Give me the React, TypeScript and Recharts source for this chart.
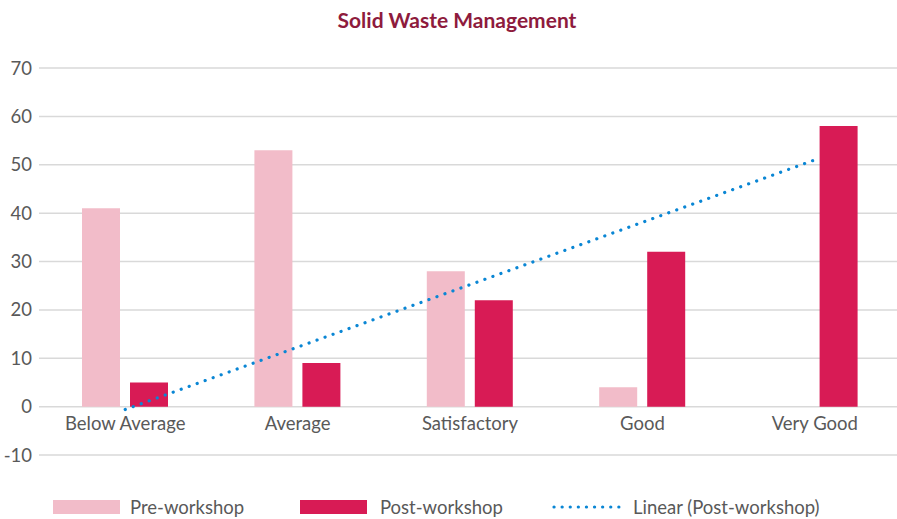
import React from 'react';
import {
  ComposedChart,
  Bar,
  Line,
  XAxis,
  YAxis,
  CartesianGrid,
} from 'recharts';

const categories = ['Below Average', 'Average', 'Satisfactory', 'Good', 'Very Good'];
const preWorkshop = [41, 53, 28, 4, 0];
const postWorkshop = [5, 9, 22, 32, 58];
// linear trend of post-workshop
const postTrend = [-0.6, 12.3, 25.2, 38.1, 51];
const yTicks = [-10, 0, 10, 20, 30, 40, 50, 60, 70];

const PRE = '#F2BCC9';
const POST = '#D81B55';
const TREND = '#0A86D4';
const TEXT = '#595959';
const FONT = 'Lato, "Open Sans", sans-serif';

const chartData = categories.map((name, i) => ({
  name,
  pre: preWorkshop[i],
  post: postWorkshop[i],
  trend: postTrend[i],
}));

// category labels sit just under the zero line, not at the bottom of the plot
const CategoryTick = (props: any) => {
  const { x, y, payload } = props;
  return (
    <text x={x} y={y - 33} textAnchor="middle" fill={TEXT} fontSize={18.5} fontFamily={FONT}>
      {payload.value}
    </text>
  );
};

export default function App() {
  return (
    <div style={{ position: 'absolute', left: 0, top: 0, width: 897, height: 519, overflow: 'hidden', background: '#fff' }}>
      <div
        style={{
          position: 'absolute',
          top: 7,
          left: 0,
          width: 914,
          textAlign: 'center',
          fontFamily: FONT,
          fontWeight: 700,
          fontSize: 21,
          color: '#8E1B3D',
        }}
      >
        Solid Waste Management
      </div>
      <ComposedChart
        width={905}
        height={519}
        data={chartData}
        margin={{ top: 68, right: 4, bottom: 34, left: 0 }}
        barGap={10}
        barCategoryGap="25%"
      >
        <CartesianGrid vertical={false} stroke="#D9D9D9" strokeWidth={1.5} />
        <XAxis
          dataKey="name"
          axisLine={false}
          tickLine={false}
          height={30}
          tick={<CategoryTick />}
          interval={0}
        />
        <YAxis
          domain={[-10, 70]}
          ticks={yTicks}
          axisLine={false}
          tickLine={false}
          width={39}
          tickMargin={1}
          tick={{ fill: TEXT, fontSize: 18.5, fontFamily: FONT }}
        />
        <Bar dataKey="pre" fill={PRE} barSize={38} isAnimationActive={false} />
        <Bar dataKey="post" fill={POST} barSize={38} isAnimationActive={false} />
        <Line
          dataKey="trend"
          stroke={TREND}
          strokeWidth={3.2}
          strokeDasharray="0.1 8.4"
          strokeLinecap="round"
          dot={false}
          activeDot={false}
          isAnimationActive={false}
        />
      </ComposedChart>
      <div
        style={{
          position: 'absolute',
          top: 496,
          left: 0,
          width: 897,
          fontFamily: FONT,
          fontSize: 18.5,
          color: TEXT,
        }}
      >
        <div style={{ position: 'absolute', left: 53, top: 4, width: 67, height: 14, background: PRE }} />
        <div style={{ position: 'absolute', left: 130, top: 0 }}>Pre-workshop</div>
        <div style={{ position: 'absolute', left: 300, top: 4, width: 67, height: 14, background: POST }} />
        <div style={{ position: 'absolute', left: 380, top: 0 }}>Post-workshop</div>
        <svg style={{ position: 'absolute', left: 550, top: 6 }} width={76} height={10}>
          <line x1={4} y1={5} x2={72} y2={5} stroke={TREND} strokeWidth={3.2} strokeDasharray="0.1 8" strokeLinecap="round" />
        </svg>
        <div style={{ position: 'absolute', left: 633, top: 0 }}>Linear (Post-workshop)</div>
      </div>
    </div>
  );
}
